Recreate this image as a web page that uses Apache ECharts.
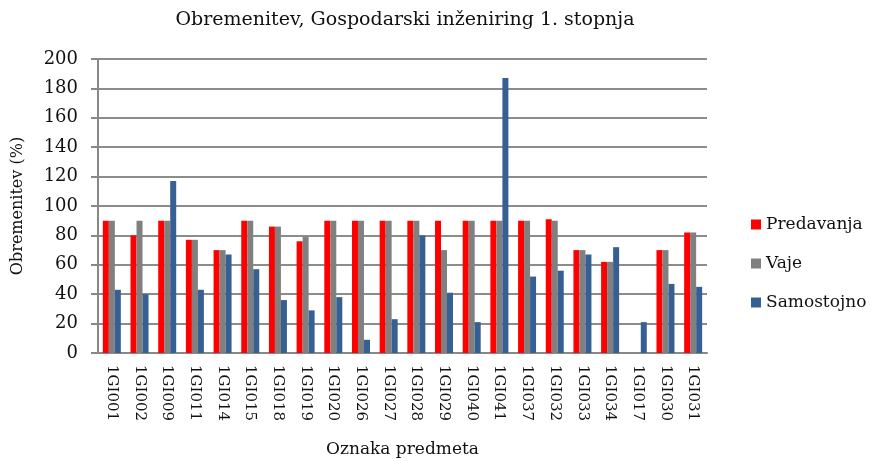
<!DOCTYPE html>
<html>
<head>
<meta charset="utf-8">
<script src="https://cdn.jsdelivr.net/npm/echarts@6/dist/echarts.min.js"></script>
<style>
  html, body { margin: 0; padding: 0; background: #fff; }
  #main { width: 872px; height: 461px; }
</style>
</head>
<body>
<div id="main"></div>
<script>
// oznake predmetov
const categories = ['1GI001', '1GI002', '1GI009', '1GI011', '1GI014', '1GI015', '1GI018', '1GI019',
  '1GI020', '1GI026', '1GI027', '1GI028', '1GI029', '1GI040', '1GI041', '1GI037', '1GI032',
  '1GI033', '1GI034', '1GI017', '1GI030', '1GI031'];
const predavanja = [90, 80, 90, 77, 70, 90, 86, 76, 90, 90, 90, 90, 90, 90, 90, 90, 91, 70, 62, 0, 70, 82];
const vaje = [90, 90, 90, 77, 70, 90, 86, 79, 90, 90, 90, 90, 70, 90, 90, 90, 90, 70, 62, 0, 70, 82];
const samostojno = [43, 40, 117, 43, 67, 57, 36, 29, 38, 9, 23, 80, 41, 21, 187, 52, 56, 67, 72, 21, 47, 45];
const yTicks = [0, 20, 40, 60, 80, 100, 120, 140, 160, 180, 200];

const font = '"DejaVu Serif", serif';
const txt = '#111';

const chart = echarts.init(document.getElementById('main'));

const mkSeries = (name, data, color) => ({
  name: name,
  type: 'bar',
  data: data,
  barWidth: 6,
  barGap: '0%',
  itemStyle: { color: color },
  emphasis: { disabled: true }
});

chart.setOption({
  animation: false,
  backgroundColor: '#fff',
  title: {
    text: 'Obremenitev, Gospodarski inženiring 1. stopnja',
    left: 400,
    textAlign: 'center',
    top: 6,
    textStyle: { fontFamily: font, fontSize: 19, fontWeight: 'normal', color: txt }
  },
  legend: {
    orient: 'vertical',
    left: 746,
    top: 211,
    itemGap: 22,
    itemWidth: 10,
    itemHeight: 10,
    icon: 'rect',
    textStyle: { fontFamily: font, fontSize: 17, color: txt },
    data: ['Predavanja', 'Vaje', 'Samostojno']
  },
  grid: { left: 98, right: 165, top: 59, bottom: 108, outerBoundsMode: 'none', containLabel: false },
  xAxis: {
    type: 'category',
    data: categories,
    name: 'Oznaka predmeta',
    nameLocation: 'middle',
    nameGap: 88,
    nameTextStyle: { fontFamily: font, fontSize: 17, color: txt },
    axisLine: { lineStyle: { color: '#888', width: 2 } },
    axisTick: { show: false },
    axisLabel: {
      rotate: -90,
      interval: 0,
      margin: 12,
      fontFamily: font,
      fontSize: 15,
      color: txt
    }
  },
  yAxis: {
    type: 'value',
    min: yTicks[0],
    max: yTicks[yTicks.length - 1],
    interval: 20,
    name: 'Obremenitev (%)',
    nameLocation: 'middle',
    nameGap: 72,
    nameTextStyle: { fontFamily: font, fontSize: 16, color: txt },
    axisLine: { show: true, lineStyle: { color: '#888', width: 2 } },
    axisTick: { show: true, length: 7, lineStyle: { color: '#888', width: 2 } },
    axisLabel: { fontFamily: font, fontSize: 18, color: txt, margin: 20 },
    splitLine: { lineStyle: { color: '#8c8c8c', width: 2 } }
  },
  series: [
    mkSeries('Predavanja', predavanja, '#ff0000'),
    mkSeries('Vaje', vaje, '#808080'),
    mkSeries('Samostojno', samostojno, '#376092')
  ]
});
</script>
</body>
</html>
